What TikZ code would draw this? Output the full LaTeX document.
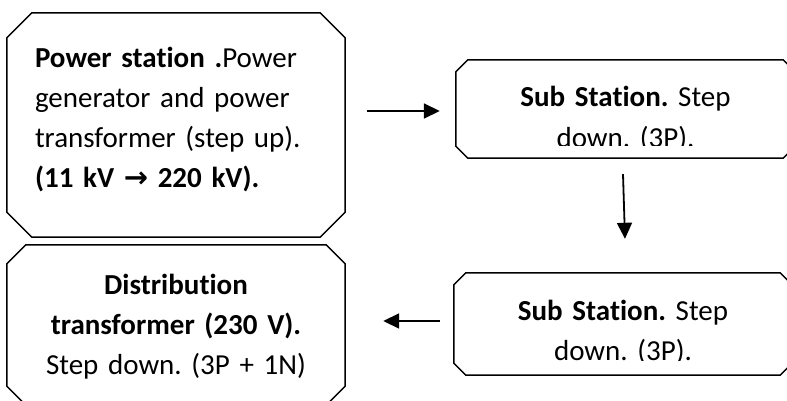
\documentclass[tikz,border=0pt]{standalone}
\usepackage{fontspec}
\setmainfont{Carlito}[Ligatures={NoCommon}]
\newfontfamily\arrfont{DejaVu Sans}
\frenchspacing
\usetikzlibrary{arrows.meta}

\begin{document}
\begin{tikzpicture}[x=1pt, y=-1pt,
  box/.style={rectangle, inner sep=0pt, text width=280pt, align=center, text height=0pt, font=\fontsize{29}{40}\selectfont},
  edge/.style={line width=1.5pt},
  flow/.style={-{Triangle[length=16pt,width=15pt]}, line width=1.8pt}
]
\useasboundingbox (0,0) rectangle (787,401);

\node[box, minimum width=338pt, minimum height=224pt, text width=282pt, align=left, text depth=114pt] (station) at (176,125)
  {\textbf{Power station .}Power\\generator and power\\transformer (step up).\\\textbf{(11 kV {\arrfont →} 220 kV).}};
\node[box, minimum width=338pt, minimum height=160pt, text depth=62pt] (dist) at (176,325)
  {\textbf{Distribution}\\\textbf{transformer (230 V).}\\Step down. (3P + 1N)};

% text of the sub stations is cut at the bottom of the frame
\begin{scope}
  \clip (0,0) rectangle (787,146);
  \node[box, minimum width=339pt, minimum height=98pt, text depth=4pt] (sub1) at (625.5,109) {\textbf{Sub Station.} Step\\down. (3P).};
\end{scope}
\begin{scope}
  \clip (0,0) rectangle (787,360);
  \node[box, minimum width=338pt, minimum height=102pt, text depth=8pt] (sub2) at (623,324) {\textbf{Sub Station.} Step\\down. (3P).};
\end{scope}

% chamfered frames
\foreach \n/\c in {station/25, dist/19, sub1/12, sub2/12}
  \draw[edge] ([xshift=\c pt]\n.north west) -- ([xshift=-\c pt]\n.north east) -- ([yshift=-\c pt]\n.north east)
    -- ([yshift=\c pt]\n.south east) -- ([xshift=-\c pt]\n.south east) -- ([xshift=\c pt]\n.south west)
    -- ([yshift=\c pt]\n.south west) -- ([yshift=-\c pt]\n.north west) -- cycle;

\draw[flow] ([xshift=22pt,yshift=-2pt]station.east |- sub1.west) -- ([xshift=-16pt,yshift=-2pt]sub1.west);
\draw[flow] ([xshift=-2.5pt,yshift=-16pt]sub1.south) -- ([xshift=2pt,yshift=34pt]sub2.north);
\draw[flow] ([xshift=-14pt,yshift=3pt]sub2.west) -- ([xshift=38pt,yshift=4pt]dist.east);
\end{tikzpicture}
\end{document}
